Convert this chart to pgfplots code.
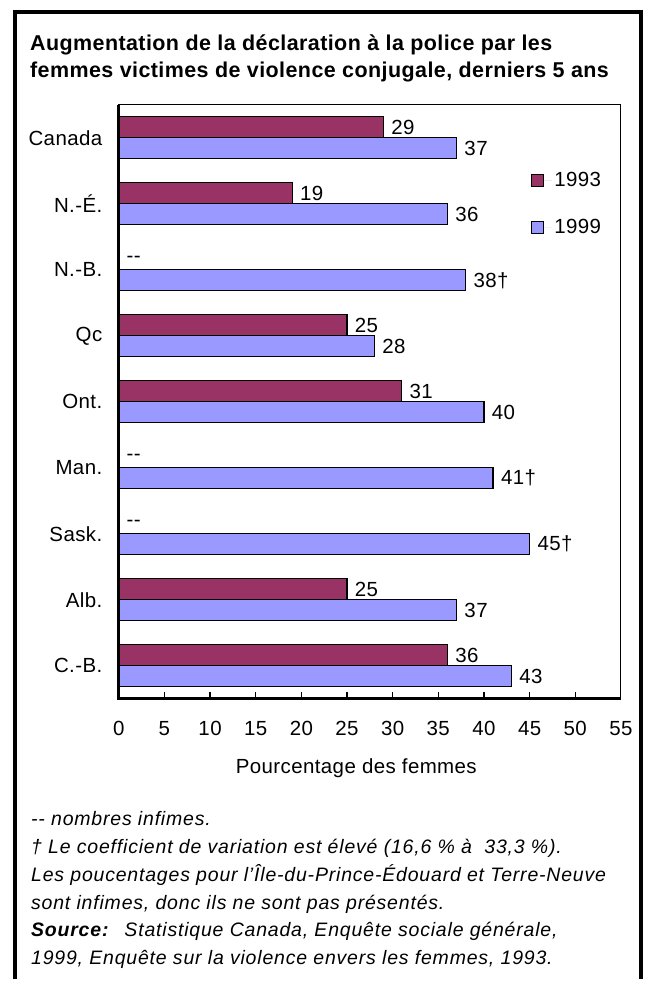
\documentclass[border=0pt]{standalone}
\usepackage{fontspec}
\setmainfont{Liberation Sans}
\usepackage{pgfplots}
\pgfplotsset{compat=1.18}
\definecolor{c93}{RGB}{153,51,102}
\definecolor{c99}{RGB}{153,153,255}
\newcommand{\lblfont}{\fontsize{20.5}{24}\selectfont\addfontfeatures{LetterSpace=2}}

\begin{document}
\begin{tikzpicture}
\path (0pt,0pt) rectangle (649pt,-981pt);
% frame, open at the bottom
\draw[line width=3.5pt] (15pt,-981pt) -- (15pt,-12pt) -- (642pt,-12pt) -- (642pt,-981pt);
\node[anchor=north west, align=left, inner sep=0pt,
      font=\fontsize{21.5}{27}\selectfont\bfseries\addfontfeatures{LetterSpace=2}] at (30pt,-35pt)
  {Augmentation de la déclaration à la police par les\\femmes victimes de violence conjugale, derniers 5 ans};

\begin{axis}[
  at={(119pt,-700pt)}, anchor=south west,
  scale only axis, width=503pt, height=595pt,
  xbar, bar width=21pt,
  xmin=0, xmax=55, ymin=-0.5, ymax=8.5,
  xtick={0,5,...,55}, ytick={0,...,8},
  yticklabels={C.-B., Alb., Sask., Man., Ont., Qc, N.-B., N.-É., Canada},
  xtick pos=bottom, ytick pos=left,
  tick align=inside, major tick length=7pt,
  x tick style={black, line width=1.2pt},
  y tick style={draw=none},
  axis line style={black, line width=1.2pt},
  tick label style={font=\lblfont, /pgf/number format/assume math mode=true},
  xticklabel style={yshift=-19pt},
  yticklabel style={xshift=-13pt},
  xlabel={Pourcentage des femmes},
  xlabel style={font=\lblfont, at={(axis description cs:0.473,0)}, anchor=center, yshift=-70pt},
  point meta=explicit symbolic,
  nodes near coords,
  nodes near coords align=horizontal,
  every node near coord/.append style={font=\lblfont, black, anchor=west, xshift=4pt},
  legend style={draw=none, fill=none, font=\lblfont, at={(axis description cs:0.814,0.893)},
    anchor=north west, row sep=27pt, cells={anchor=west}},
  legend image code/.code={\draw[#1] (0pt,-6pt) rectangle (12pt,6pt); \path[draw=none] (12pt,0pt) -- (21pt,0pt);},
  clip=false,
]
\addplot[fill=c93, draw=black, line width=1.2pt, bar shift=10.5pt] coordinates {
  (36,0) [36] (25,1) [25] (0,2) [-{}-] (0,3) [-{}-] (31,4) [31]
  (25,5) [25] (0,6) [-{}-] (19,7) [19] (29,8) [29]};
\addplot[fill=c99, draw=black, line width=1.2pt, bar shift=-10.5pt] coordinates {
  (43,0) [43] (37,1) [37] (45,2) [45†] (41,3) [41†] (40,4) [40]
  (28,5) [28] (38,6) [38†] (36,7) [36] (37,8) [37]};
\legend{1993,1999}
\draw[line width=3pt] (rel axis cs:0,1) -- (rel axis cs:0,0) -- (rel axis cs:1,0);
\end{axis}

\node[anchor=north west, align=left, inner sep=0pt,
      font=\fontsize{19.5}{27.8}\selectfont\itshape\addfontfeatures{LetterSpace=4.2}] at (31pt,-813pt)
  {-{}- nombres infimes.\\
   † Le coefficient de variation est élevé (16,6~\%~à~~33,3~\%).\\
   Les poucentages pour l’Île-du-Prince-Édouard et Terre-Neuve\\
   sont infimes, donc ils ne sont pas présentés.\\
   \textbf{Source:}\hspace{16pt}Statistique Canada, Enquête sociale générale,\\
   1999, Enquête sur la violence envers les femmes, 1993.};
\end{tikzpicture}
\end{document}
